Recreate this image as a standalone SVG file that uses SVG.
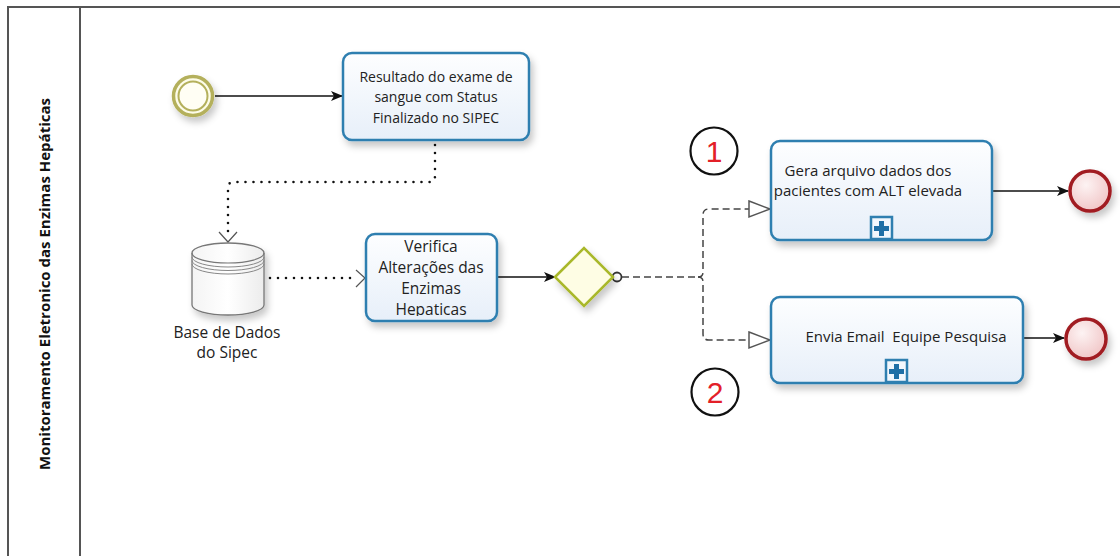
<svg xmlns="http://www.w3.org/2000/svg" width="1120" height="556" viewBox="0 0 1120 556">
<style>
.lbl{font-family:"Open Sans","Liberation Sans",sans-serif;font-size:14px;fill:#222;text-anchor:middle}
.big{font-size:15.5px}
.mid{font-size:15px}
.task{stroke:#2f7fb0;stroke-width:2.5;fill:url(#taskGrad)}
.seq{stroke:#111;stroke-width:1.5;fill:none}
.dot{stroke:#111;stroke-width:2.6;stroke-linecap:round;stroke-dasharray:0 8;fill:none}
.msg{stroke:#444;stroke-width:1.5;stroke-dasharray:7 4;fill:none}
.vee{stroke:#555;stroke-width:1.2;fill:none}
.tri{stroke:#555;stroke-width:1.5;fill:#fff}
.num{font-family:"Liberation Sans","Open Sans",sans-serif;font-size:30px;fill:#e32028;text-anchor:middle}
.ring{stroke:#111;stroke-width:2.2;fill:none}
.pool{stroke:#555;stroke-width:2;fill:none}
.endev{stroke:#a11d22;stroke-width:3.5;fill:url(#endGrad)}
.plusbox{fill:#f2f7fd;stroke:#2f7fb0;stroke-width:2.5}
.plus{fill:#1f6fa6}
</style>
<defs>
<linearGradient id="taskGrad" x1="0" y1="0" x2="0" y2="1">
<stop offset="0" stop-color="#fdfeff"/><stop offset="1" stop-color="#e7eff9"/>
</linearGradient>
<radialGradient id="endGrad" cx="0.4" cy="0.35" r="0.7">
<stop offset="0" stop-color="#fdf3f3"/><stop offset="1" stop-color="#f0c4c5"/>
</radialGradient>
<linearGradient id="dbGrad" x1="0" y1="0" x2="1" y2="0">
<stop offset="0" stop-color="#f4f4f4"/><stop offset="0.5" stop-color="#ffffff"/><stop offset="1" stop-color="#ececec"/>
</linearGradient>
<filter id="shadow" x="-20%" y="-20%" width="150%" height="160%">
<feDropShadow dx="3" dy="5" stdDeviation="3.5" flood-color="#000" flood-opacity="0.22"/>
</filter>
<marker id="arrow" viewBox="0 0 12 10" refX="11" refY="5" markerWidth="12" markerHeight="10" markerUnits="userSpaceOnUse" orient="auto">
<path d="M0,0 L12,5 L0,10 L3,5 z" fill="#111"/>
</marker>
<clipPath id="clipT2"><rect x="368" y="240" width="128" height="76"/></clipPath>
<clipPath id="clipT3"><rect x="772" y="142" width="219" height="97"/></clipPath>
</defs>

<g id="pool">
<path class="pool" d="M1120,7 L8,7 L8,556 M80,7 L80,556"/>
<text transform="translate(50,284) rotate(-90)" font-family="'Open Sans','Liberation Sans',sans-serif" font-size="13.5" font-weight="bold" fill="#111" text-anchor="middle" textLength="372" lengthAdjust="spacingAndGlyphs">Monitoramento Eletronico das Enzimas Hepáticas</text>
</g>

<g id="connectors">
<path class="seq" d="M215,96 L342,96" marker-end="url(#arrow)"/>
<path class="dot" d="M435,145 L435,176 Q435,182 429,182 L234,182 Q228,182 228,188 L228,236"/>
<path class="vee" d="M219,232 L228,242 L237,232"/>
<path class="dot" d="M270,278 L352,278"/>
<path class="vee" d="M356,270 L365,278 L356,287"/>
<path class="seq" d="M497,277 L555,277" marker-end="url(#arrow)"/>
<circle cx="617" cy="277" r="4.5" fill="#fff" stroke="#333" stroke-width="1.8"/>
<path class="msg" d="M622,277 L700,277"/>
<path class="msg" d="M698,277 Q703,277 703,272 L703,215 Q703,209 709,209 L749,209"/>
<path class="msg" d="M698,277 Q703,277 703,282 L703,334 Q703,340 709,340 L749,340"/>
<path class="tri" d="M749,201 L770,209 L749,217 z"/>
<path class="tri" d="M749,332 L770,340 L749,348 z"/>
<path class="seq" d="M992,191 L1068,191" marker-end="url(#arrow)"/>
<path class="seq" d="M1023,338 L1064,338" marker-end="url(#arrow)"/>
</g>

<g id="start">
<circle cx="193" cy="96" r="19.5" fill="#fdfce9" stroke="#b4b05c" stroke-width="3.5" filter="url(#shadow)"/>
<circle cx="193" cy="96" r="14.5" fill="#fffef4" stroke="#b4b05c" stroke-width="2"/>
</g>

<g id="task1">
<rect class="task" x="343" y="53" width="186" height="87" rx="9" filter="url(#shadow)"/>
<text class="lbl" x="436" y="82">Resultado do exame de</text>
<text class="lbl" x="436" y="102">sangue com Status</text>
<text class="lbl" x="436" y="123">Finalizado no SIPEC</text>
</g>

<g id="database">
<path d="M192,253 A36,10 0 0 1 264,253 L264,305 A36,10 0 0 1 192,305 Z" fill="url(#dbGrad)" stroke="#777" stroke-width="1.3" filter="url(#shadow)"/>
<path d="M192,253 A36,10 0 0 0 264,253" fill="none" stroke="#777" stroke-width="1.2"/>
<path d="M192,257 A36,10 0 0 0 264,257 M192,260.5 A36,10 0 0 0 264,260.5 M192,264 A36,10 0 0 0 264,264" fill="none" stroke="#888" stroke-width="1"/>
<text class="lbl big" x="227" y="338">Base de Dados</text>
<text class="lbl big" x="227" y="358">do Sipec</text>
</g>

<g id="task2">
<rect class="task" x="366" y="234" width="131" height="87" rx="9" filter="url(#shadow)"/>
<g clip-path="url(#clipT2)">
<text class="lbl big" x="431" y="252">Verifica</text>
<text class="lbl big" x="431" y="273">Alterações das</text>
<text class="lbl big" x="431" y="294">Enzimas</text>
<text class="lbl big" x="431" y="315">Hepaticas</text>
</g>
</g>

<g id="gateway">
<polygon points="555,277 584,248 613,277 584,306" fill="#fefde4" stroke="#a9b82a" stroke-width="2.5" filter="url(#shadow)"/>
</g>

<g id="task3">
<rect class="task" x="771" y="141" width="221" height="99" rx="9" filter="url(#shadow)"/>
<g clip-path="url(#clipT3)">
<text class="lbl mid" x="868" y="176">Gera arquivo dados dos</text>
<text class="lbl mid" x="868" y="196">pacientes com ALT elevada</text>
</g>
<rect class="plusbox" x="871" y="217" width="21" height="22"/>
<path class="plus" d="M879,221 h5 v5 h5 v5 h-5 v5 h-5 v-5 h-5 v-5 h5 z"/>
</g>

<g id="task4">
<rect class="task" x="771" y="297" width="252" height="86" rx="9" filter="url(#shadow)"/>
<text class="lbl mid" x="906" y="342" style="white-space:pre">Envia Email  Equipe Pesquisa</text>
<rect class="plusbox" x="886" y="360" width="21" height="22"/>
<path class="plus" d="M894,364 h5 v5 h5 v5 h-5 v5 h-5 v-5 h-5 v-5 h5 z"/>
</g>

<g id="end1">
<circle class="endev" cx="1090" cy="191" r="20" filter="url(#shadow)"/>
</g>

<g id="end2">
<circle class="endev" cx="1086" cy="339" r="20" filter="url(#shadow)"/>
</g>

<g id="mark1">
<circle class="ring" cx="714" cy="151" r="23.5"/>
<text class="num" x="714" y="162">1</text>
</g>

<g id="mark2">
<circle class="ring" cx="715" cy="392" r="23.5"/>
<text class="num" x="715" y="403">2</text>
</g>
</svg>
